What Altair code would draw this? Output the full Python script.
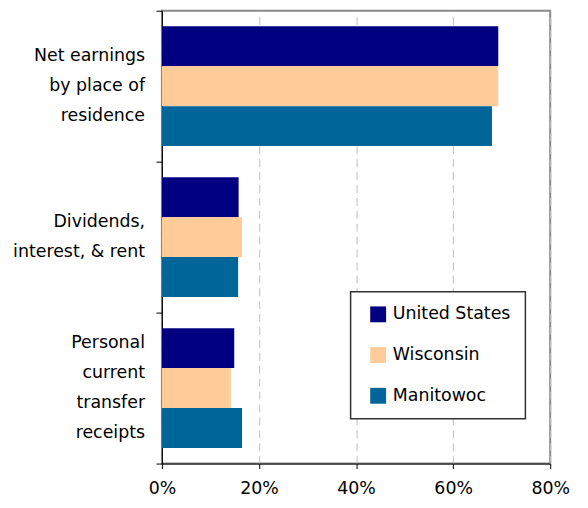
import altair as alt
import pandas as pd

categories = ["Net earnings\nby place of\nresidence", "Dividends,\ninterest, & rent", "Personal\ncurrent\ntransfer\nreceipts"]
series = ["United States", "Wisconsin", "Manitowoc"]
colors = ["#000080", "#FFCC99", "#006699"]
us_values = [0.693, 0.158, 0.149]
wi_values = [0.693, 0.165, 0.142]
manitowoc_values = [0.680, 0.157, 0.165]

rows = []
for s, vals in zip(series, [us_values, wi_values, manitowoc_values]):
    for c, v in zip(categories, vals):
        rows.append({"category": c, "series": s, "value": v})
df = pd.DataFrame(rows)

FONT = "DejaVu Sans"
LINE_H = 30

y_enc = alt.Y("category:N", sort=categories, title=None,
              scale=alt.Scale(domain=categories, paddingInner=0, paddingOuter=0),
              axis=alt.Axis(tickBand="extent", labels=False, tickSize=6,
                            domainColor="black", tickColor="black", grid=False))

bars = alt.Chart(df).mark_bar().encode(
    y=y_enc,
    yOffset=alt.YOffset("series:N", sort=series,
                        scale=alt.Scale(paddingInner=0, paddingOuter=0.39)),
    x=alt.X("value:Q", title=None,
            scale=alt.Scale(domain=[0, 0.8], nice=False),
            axis=alt.Axis(values=[0, 0.2, 0.4, 0.6, 0.8], format=".0%",
                          grid=True, gridDash=[8, 5], gridColor="#c0c0c0",
                          domainColor="black", tickColor="black", tickSize=5,
                          labelColor="black", labelFont=FONT, labelFontSize=17.5,
                          labelPadding=11, labelFlush=False)),
    color=alt.Color("series:N", sort=series, title=None,
                    scale=alt.Scale(domain=series, range=colors),
                    legend=alt.Legend(orient="none", legendX=190, legendY=283,
                                      direction="vertical", symbolType="square",
                                      symbolSize=256, symbolStrokeWidth=0,
                                      labelFont=FONT, labelFontSize=17.5,
                                      labelColor="black", rowPadding=22,
                                      padding=14, symbolOffset=5, labelOffset=6,
                                      strokeColor="#333333", fillColor="white")),
)

label_layers = []
for c in categories:
    n_lines = c.count("\n") + 1
    ldf = pd.DataFrame([{"category": c}])
    label_layers.append(
        alt.Chart(ldf).transform_calculate(
            lines="split(datum.category, '\\n')"
        ).mark_text(
            align="right", baseline="middle", font=FONT, fontSize=17.5,
            lineHeight=LINE_H, color="black", dy=-(n_lines - 1) * LINE_H / 2,
        ).encode(
            y=y_enc,
            x=alt.value(-17),
            text="lines:N",
        )
    )

chart = alt.layer(bars, *label_layers).properties(
    width=391, height=456,
    autosize=alt.AutoSizeParams(type="none"),
    padding={"left": 155, "top": 1, "right": 30, "bottom": 40},
).configure_view(
    stroke="#888888", strokeWidth=2
).configure_legend(
    strokeWidth=1.5
)

chart.save("out.html", embed_options={"renderer": "svg", "actions": False})
